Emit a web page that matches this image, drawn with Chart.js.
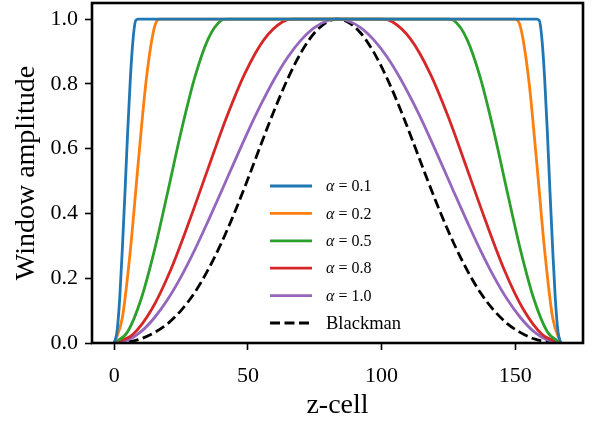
<!DOCTYPE html>
<html>
<head>
<meta charset="utf-8">
<script src="https://cdn.jsdelivr.net/npm/chart.js@4.4.0/dist/chart.umd.min.js"></script>
<style>
  html, body { margin: 0; padding: 0; background: #fff; }
</style>
</head>
<body>
<canvas id="chart" width="593" height="424"></canvas>
<script>
// values
const xTicks = [0, 50, 100, 150];
const yTicks = [0, 0.2, 0.4, 0.6, 0.8, 1.0];

const cellsA01 = [0, 1, 2, 3, 4, 5, 6, 7, 8, 9, 158, 159, 160, 161, 162, 163, 164, 165, 166, 167];
const ampA01 = [0, 0.035, 0.135, 0.291, 0.467, 0.653, 0.817, 0.937, 0.996, 1, 1, 0.996, 0.937, 0.817, 0.653, 0.467, 0.291, 0.135, 0.035, 0];

const cellsA02 = [0, 3, 6, 9, 12, 15, 17, 150, 152, 155, 158, 161, 164, 167];
const ampA02 = [0, 0.078, 0.286, 0.561, 0.817, 0.975, 1, 1, 0.975, 0.817, 0.561, 0.286, 0.078, 0];

const cellsA05 = [0, 5, 10, 15, 20, 25, 30, 35, 40, 42, 125, 127, 132, 137, 142, 147, 152, 157, 162, 167];
const ampA05 = [0, 0.035, 0.135, 0.286, 0.467, 0.653, 0.817, 0.937, 0.996, 1, 1, 0.996, 0.937, 0.817, 0.653, 0.467, 0.286, 0.135, 0.035, 0];

const cellsA08 = [0, 7, 14, 21, 28, 35, 42, 49, 56, 63, 67, 100, 104, 111, 118, 125, 132, 139, 146, 153, 160, 167];
const ampA08 = [0, 0.027, 0.104, 0.224, 0.375, 0.537, 0.697, 0.835, 0.937, 0.992, 1, 1, 0.992, 0.937, 0.835, 0.697, 0.537, 0.375, 0.224, 0.104, 0.027, 0];

const cellsSmooth = [0, 5, 10, 15, 20, 25, 30, 35, 40, 45, 50, 55, 60, 65, 70, 75, 80, 83.5,
  87, 92, 97, 102, 107, 112, 117, 122, 127, 132, 137, 142, 147, 152, 157, 162, 167];
const ampA10 = [0, 0.009, 0.035, 0.078, 0.135, 0.205, 0.286, 0.375, 0.467, 0.561, 0.653, 0.739, 0.817, 0.884, 0.937, 0.975, 0.996, 1,
  0.996, 0.975, 0.937, 0.884, 0.817, 0.739, 0.653, 0.561, 0.467, 0.375, 0.286, 0.205, 0.135, 0.078, 0.035, 0.009, 0];
const ampBlackman = [0, 0.003, 0.013, 0.032, 0.060, 0.101, 0.155, 0.225, 0.308, 0.403, 0.507, 0.616, 0.722, 0.818, 0.899, 0.959, 0.993, 1,
  0.993, 0.959, 0.899, 0.818, 0.722, 0.616, 0.507, 0.403, 0.308, 0.225, 0.155, 0.101, 0.060, 0.032, 0.013, 0.003, 0];

const seriesLabels = ['α = 0.1', 'α = 0.2', 'α = 0.5', 'α = 0.8', 'α = 1.0', 'Blackman'];
const seriesColors = ['#1f77b4', '#ff7f0e', '#2ca02c', '#d62728', '#9467bd', '#000000'];

const serif = "'Liberation Serif', 'DejaVu Serif', serif";

function pts(xs, ys) {
  return xs.map((x, i) => ({ x: x, y: ys[i] }));
}

const seriesData = [
  pts(cellsA01, ampA01),
  pts(cellsA02, ampA02),
  pts(cellsA05, ampA05),
  pts(cellsA08, ampA08),
  pts(cellsSmooth, ampA10),
  pts(cellsSmooth, ampBlackman)
];

const datasets = seriesData.map((d, i) => ({
  label: seriesLabels[i],
  data: d,
  borderColor: seriesColors[i],
  backgroundColor: seriesColors[i],
  borderWidth: 2.8,
  borderDash: i === 5 ? [10, 4.5] : [],
  pointRadius: 0,
  cubicInterpolationMode: 'monotone',
  fill: false
}));

// axes box around the plot
const framePlugin = {
  id: 'frame',
  afterDatasetsDraw(chart) {
    const { ctx, chartArea: a } = chart;
    ctx.save();
    ctx.strokeStyle = '#000';
    ctx.lineWidth = 2.6;
    ctx.strokeRect(a.left, a.top, a.right - a.left, a.bottom - a.top);
    ctx.restore();
  }
};

// legend drawn inside the plot, like matplotlib's
const innerLegend = {
  id: 'innerLegend',
  afterDraw(chart) {
    const { ctx, chartArea: a } = chart;
    const x0 = a.left + 178, lineLen = 42, textX = x0 + 56;
    let y = a.top + 183;
    ctx.save();
    chart.data.datasets.forEach(ds => {
      ctx.strokeStyle = ds.borderColor;
      ctx.lineWidth = ds.borderWidth;
      ctx.setLineDash(ds.borderDash);
      ctx.beginPath();
      ctx.moveTo(x0, y);
      ctx.lineTo(x0 + lineLen, y);
      ctx.stroke();
      ctx.setLineDash([]);
      ctx.fillStyle = '#000';
      ctx.textBaseline = 'middle';
      ctx.textAlign = 'left';
      let tx = textX;
      let rest = ds.label;
      if (rest.startsWith('α')) {
        // math-style label: italic alpha, spaced equals sign
        ctx.font = 'italic 16px ' + serif;
        ctx.fillText('α', tx, y + 1);
        tx += ctx.measureText('α').width + 4;
        ctx.font = '16px ' + serif;
        ctx.fillText('=', tx, y + 1);
        tx += ctx.measureText('=').width + 4;
        rest = rest.slice(4);
        ctx.fillText(rest, tx, y + 1);
      } else {
        ctx.font = '18.5px ' + serif;
        ctx.fillText(rest, tx, y + 1);
      }
      y += 27.4;
    });
    ctx.restore();
  }
};

const tickGrid = {
  display: true,
  drawOnChartArea: false,
  drawTicks: true,
  tickLength: 7,
  tickWidth: 1.6,
  tickColor: '#000'
};

function noPad(s) {
  s.paddingTop = 0;
  s.paddingBottom = 0;
  s.paddingLeft = 0;
  s.paddingRight = 0;
}

new Chart(document.getElementById('chart'), {
  type: 'line',
  data: { datasets: datasets },
  options: {
    responsive: false,
    animation: false,
    layout: { padding: { left: 0, top: 3, right: 10, bottom: 0 } },
    plugins: { legend: { display: false }, tooltip: { enabled: false } },
    scales: {
      x: {
        type: 'linear',
        min: -8.35,
        max: 175.35,
        grid: tickGrid,
        border: { display: false },
        afterBuildTicks: s => { s.ticks = xTicks.map(v => ({ value: v })); },
        afterFit: s => { s.height = 81; noPad(s); },
        ticks: {
          color: '#000',
          padding: 13,
          maxRotation: 0,
          font: { family: serif, size: 22 },
          callback: v => String(v)
        },
        title: {
          display: true,
          text: 'z-cell',
          color: '#000',
          padding: { top: 0, bottom: 2 },
          font: { family: serif, size: 28 }
        }
      },
      y: {
        min: 0,
        max: 1.05,
        grid: tickGrid,
        border: { display: false },
        afterBuildTicks: s => { s.ticks = yTicks.map(v => ({ value: v })); },
        afterFit: s => { s.width = 92; noPad(s); },
        ticks: {
          color: '#000',
          padding: 7,
          font: { family: serif, size: 22 },
          callback: v => Number(v).toFixed(1)
        },
        title: {
          display: true,
          text: 'Window amplitude',
          color: '#000',
          padding: { top: 10, bottom: 0 },
          font: { family: serif, size: 28 }
        }
      }
    }
  },
  plugins: [framePlugin, innerLegend]
});
</script>
</body>
</html>
